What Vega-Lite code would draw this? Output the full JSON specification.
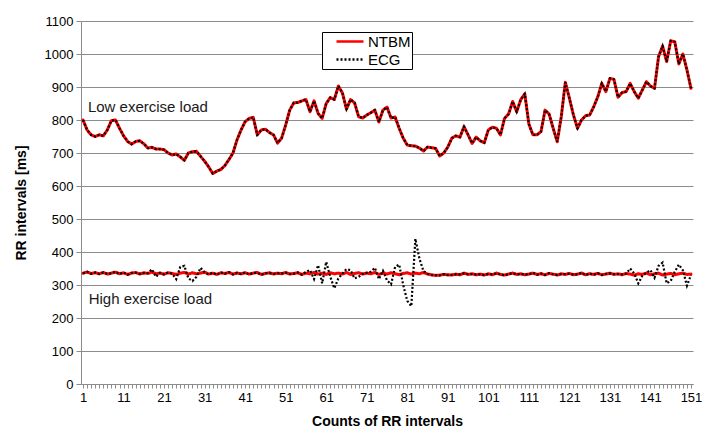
{
"$schema": "https://vega.github.io/schema/vega-lite/v6.json",
"width": 612, "height": 363,
"autosize": {"type": "none"},
"padding": {"left": 81, "top": 21, "right": 10, "bottom": 47},
"background": "white",
"config": {"view": {"stroke": null}, "font": "Liberation Sans"},
"data": {"values": [
{"i":1,"load":"low","NTBM":800,"ECG":800},{"i":2,"load":"low","NTBM":770,"ECG":770},{"i":3,"load":"low","NTBM":755,"ECG":755},{"i":4,"load":"low","NTBM":750,"ECG":750},{"i":5,"load":"low","NTBM":755,"ECG":755},{"i":6,"load":"low","NTBM":752,"ECG":752},{"i":7,"load":"low","NTBM":770,"ECG":770},{"i":8,"load":"low","NTBM":798,"ECG":798},{"i":9,"load":"low","NTBM":800,"ECG":800},{"i":10,"load":"low","NTBM":775,"ECG":775},
{"i":11,"load":"low","NTBM":752,"ECG":752},{"i":12,"load":"low","NTBM":735,"ECG":735},{"i":13,"load":"low","NTBM":727,"ECG":727},{"i":14,"load":"low","NTBM":735,"ECG":735},{"i":15,"load":"low","NTBM":737,"ECG":737},{"i":16,"load":"low","NTBM":728,"ECG":728},{"i":17,"load":"low","NTBM":715,"ECG":715},{"i":18,"load":"low","NTBM":717,"ECG":717},{"i":19,"load":"low","NTBM":712,"ECG":712},{"i":20,"load":"low","NTBM":712,"ECG":712},
{"i":21,"load":"low","NTBM":710,"ECG":710},{"i":22,"load":"low","NTBM":700,"ECG":700},{"i":23,"load":"low","NTBM":694,"ECG":694},{"i":24,"load":"low","NTBM":697,"ECG":697},{"i":25,"load":"low","NTBM":688,"ECG":688},{"i":26,"load":"low","NTBM":678,"ECG":678},{"i":27,"load":"low","NTBM":700,"ECG":700},{"i":28,"load":"low","NTBM":704,"ECG":704},{"i":29,"load":"low","NTBM":705,"ECG":705},{"i":30,"load":"low","NTBM":690,"ECG":690},
{"i":31,"load":"low","NTBM":675,"ECG":675},{"i":32,"load":"low","NTBM":658,"ECG":658},{"i":33,"load":"low","NTBM":638,"ECG":638},{"i":34,"load":"low","NTBM":645,"ECG":645},{"i":35,"load":"low","NTBM":650,"ECG":650},{"i":36,"load":"low","NTBM":662,"ECG":662},{"i":37,"load":"low","NTBM":680,"ECG":680},{"i":38,"load":"low","NTBM":700,"ECG":700},{"i":39,"load":"low","NTBM":740,"ECG":740},{"i":40,"load":"low","NTBM":770,"ECG":770},
{"i":41,"load":"low","NTBM":795,"ECG":795},{"i":42,"load":"low","NTBM":805,"ECG":805},{"i":43,"load":"low","NTBM":808,"ECG":808},{"i":44,"load":"low","NTBM":755,"ECG":755},{"i":45,"load":"low","NTBM":770,"ECG":770},{"i":46,"load":"low","NTBM":772,"ECG":772},{"i":47,"load":"low","NTBM":762,"ECG":762},{"i":48,"load":"low","NTBM":755,"ECG":755},{"i":49,"load":"low","NTBM":730,"ECG":730},{"i":50,"load":"low","NTBM":745,"ECG":745},
{"i":51,"load":"low","NTBM":785,"ECG":785},{"i":52,"load":"low","NTBM":830,"ECG":830},{"i":53,"load":"low","NTBM":852,"ECG":852},{"i":54,"load":"low","NTBM":853,"ECG":853},{"i":55,"load":"low","NTBM":858,"ECG":858},{"i":56,"load":"low","NTBM":862,"ECG":862},{"i":57,"load":"low","NTBM":825,"ECG":825},{"i":58,"load":"low","NTBM":858,"ECG":858},{"i":59,"load":"low","NTBM":820,"ECG":820},{"i":60,"load":"low","NTBM":805,"ECG":805},
{"i":61,"load":"low","NTBM":850,"ECG":850},{"i":62,"load":"low","NTBM":868,"ECG":868},{"i":63,"load":"low","NTBM":862,"ECG":862},{"i":64,"load":"low","NTBM":903,"ECG":903},{"i":65,"load":"low","NTBM":882,"ECG":882},{"i":66,"load":"low","NTBM":833,"ECG":833},{"i":67,"load":"low","NTBM":862,"ECG":862},{"i":68,"load":"low","NTBM":852,"ECG":852},{"i":69,"load":"low","NTBM":810,"ECG":810},{"i":70,"load":"low","NTBM":806,"ECG":806},
{"i":71,"load":"low","NTBM":815,"ECG":815},{"i":72,"load":"low","NTBM":822,"ECG":822},{"i":73,"load":"low","NTBM":830,"ECG":830},{"i":74,"load":"low","NTBM":794,"ECG":794},{"i":75,"load":"low","NTBM":830,"ECG":830},{"i":76,"load":"low","NTBM":839,"ECG":839},{"i":77,"load":"low","NTBM":806,"ECG":806},{"i":78,"load":"low","NTBM":809,"ECG":809},{"i":79,"load":"low","NTBM":775,"ECG":775},{"i":80,"load":"low","NTBM":745,"ECG":745},
{"i":81,"load":"low","NTBM":724,"ECG":724},{"i":82,"load":"low","NTBM":722,"ECG":722},{"i":83,"load":"low","NTBM":721,"ECG":721},{"i":84,"load":"low","NTBM":715,"ECG":715},{"i":85,"load":"low","NTBM":706,"ECG":706},{"i":86,"load":"low","NTBM":718,"ECG":718},{"i":87,"load":"low","NTBM":716,"ECG":716},{"i":88,"load":"low","NTBM":714,"ECG":714},{"i":89,"load":"low","NTBM":691,"ECG":691},{"i":90,"load":"low","NTBM":700,"ECG":700},
{"i":91,"load":"low","NTBM":718,"ECG":718},{"i":92,"load":"low","NTBM":745,"ECG":745},{"i":93,"load":"low","NTBM":752,"ECG":752},{"i":94,"load":"low","NTBM":748,"ECG":748},{"i":95,"load":"low","NTBM":780,"ECG":780},{"i":96,"load":"low","NTBM":755,"ECG":755},{"i":97,"load":"low","NTBM":729,"ECG":729},{"i":98,"load":"low","NTBM":748,"ECG":748},{"i":99,"load":"low","NTBM":737,"ECG":737},{"i":100,"load":"low","NTBM":731,"ECG":731},
{"i":101,"load":"low","NTBM":770,"ECG":770},{"i":102,"load":"low","NTBM":778,"ECG":778},{"i":103,"load":"low","NTBM":775,"ECG":775},{"i":104,"load":"low","NTBM":755,"ECG":755},{"i":105,"load":"low","NTBM":805,"ECG":805},{"i":106,"load":"low","NTBM":818,"ECG":818},{"i":107,"load":"low","NTBM":856,"ECG":856},{"i":108,"load":"low","NTBM":825,"ECG":825},{"i":109,"load":"low","NTBM":862,"ECG":862},{"i":110,"load":"low","NTBM":879,"ECG":879},
{"i":111,"load":"low","NTBM":788,"ECG":788},{"i":112,"load":"low","NTBM":755,"ECG":755},{"i":113,"load":"low","NTBM":755,"ECG":755},{"i":114,"load":"low","NTBM":765,"ECG":765},{"i":115,"load":"low","NTBM":830,"ECG":830},{"i":116,"load":"low","NTBM":818,"ECG":818},{"i":117,"load":"low","NTBM":775,"ECG":775},{"i":118,"load":"low","NTBM":734,"ECG":734},{"i":119,"load":"low","NTBM":810,"ECG":810},{"i":120,"load":"low","NTBM":914,"ECG":914},
{"i":121,"load":"low","NTBM":866,"ECG":866},{"i":122,"load":"low","NTBM":815,"ECG":815},{"i":123,"load":"low","NTBM":775,"ECG":775},{"i":124,"load":"low","NTBM":800,"ECG":800},{"i":125,"load":"low","NTBM":813,"ECG":813},{"i":126,"load":"low","NTBM":815,"ECG":815},{"i":127,"load":"low","NTBM":840,"ECG":840},{"i":128,"load":"low","NTBM":870,"ECG":870},{"i":129,"load":"low","NTBM":911,"ECG":911},{"i":130,"load":"low","NTBM":886,"ECG":886},
{"i":131,"load":"low","NTBM":926,"ECG":926},{"i":132,"load":"low","NTBM":923,"ECG":923},{"i":133,"load":"low","NTBM":869,"ECG":869},{"i":134,"load":"low","NTBM":883,"ECG":883},{"i":135,"load":"low","NTBM":886,"ECG":886},{"i":136,"load":"low","NTBM":911,"ECG":911},{"i":137,"load":"low","NTBM":886,"ECG":886},{"i":138,"load":"low","NTBM":866,"ECG":866},{"i":139,"load":"low","NTBM":891,"ECG":891},{"i":140,"load":"low","NTBM":916,"ECG":916},
{"i":141,"load":"low","NTBM":903,"ECG":903},{"i":142,"load":"low","NTBM":896,"ECG":896},{"i":143,"load":"low","NTBM":992,"ECG":992},{"i":144,"load":"low","NTBM":1024,"ECG":1024},{"i":145,"load":"low","NTBM":977,"ECG":977},{"i":146,"load":"low","NTBM":1040,"ECG":1040},{"i":147,"load":"low","NTBM":1037,"ECG":1037},{"i":148,"load":"low","NTBM":970,"ECG":970},{"i":149,"load":"low","NTBM":1000,"ECG":1000},{"i":150,"load":"low","NTBM":952,"ECG":952},
{"i":151,"load":"low","NTBM":896,"ECG":896},
{"i":1,"load":"high","NTBM":336,"ECG":335},{"i":2,"load":"high","NTBM":339,"ECG":340},{"i":3,"load":"high","NTBM":335,"ECG":334},{"i":4,"load":"high","NTBM":337,"ECG":338},{"i":5,"load":"high","NTBM":334,"ECG":333},{"i":6,"load":"high","NTBM":338,"ECG":338},{"i":7,"load":"high","NTBM":333,"ECG":334},{"i":8,"load":"high","NTBM":336,"ECG":335},{"i":9,"load":"high","NTBM":339,"ECG":340},{"i":10,"load":"high","NTBM":334,"ECG":333},
{"i":11,"load":"high","NTBM":337,"ECG":338},{"i":12,"load":"high","NTBM":332,"ECG":331},{"i":13,"load":"high","NTBM":336,"ECG":337},{"i":14,"load":"high","NTBM":338,"ECG":337},{"i":15,"load":"high","NTBM":333,"ECG":334},{"i":16,"load":"high","NTBM":337,"ECG":336},{"i":17,"load":"high","NTBM":335,"ECG":336},{"i":18,"load":"high","NTBM":339,"ECG":348},{"i":19,"load":"high","NTBM":334,"ECG":325},{"i":20,"load":"high","NTBM":336,"ECG":337},
{"i":21,"load":"high","NTBM":333,"ECG":332},{"i":22,"load":"high","NTBM":337,"ECG":338},{"i":23,"load":"high","NTBM":335,"ECG":334},{"i":24,"load":"high","NTBM":332,"ECG":318},{"i":25,"load":"high","NTBM":336,"ECG":355},{"i":26,"load":"high","NTBM":338,"ECG":358},{"i":27,"load":"high","NTBM":333,"ECG":320},{"i":28,"load":"high","NTBM":337,"ECG":312},{"i":29,"load":"high","NTBM":334,"ECG":325},{"i":30,"load":"high","NTBM":336,"ECG":352},
{"i":31,"load":"high","NTBM":339,"ECG":338},{"i":32,"load":"high","NTBM":333,"ECG":332},{"i":33,"load":"high","NTBM":336,"ECG":337},{"i":34,"load":"high","NTBM":332,"ECG":331},{"i":35,"load":"high","NTBM":337,"ECG":338},{"i":36,"load":"high","NTBM":335,"ECG":334},{"i":37,"load":"high","NTBM":338,"ECG":339},{"i":38,"load":"high","NTBM":333,"ECG":332},{"i":39,"load":"high","NTBM":336,"ECG":337},{"i":40,"load":"high","NTBM":334,"ECG":333},
{"i":41,"load":"high","NTBM":337,"ECG":338},{"i":42,"load":"high","NTBM":333,"ECG":332},{"i":43,"load":"high","NTBM":336,"ECG":337},{"i":44,"load":"high","NTBM":338,"ECG":337},{"i":45,"load":"high","NTBM":332,"ECG":331},{"i":46,"load":"high","NTBM":335,"ECG":336},{"i":47,"load":"high","NTBM":337,"ECG":336},{"i":48,"load":"high","NTBM":333,"ECG":334},{"i":49,"load":"high","NTBM":336,"ECG":335},{"i":50,"load":"high","NTBM":334,"ECG":335},
{"i":51,"load":"high","NTBM":338,"ECG":337},{"i":52,"load":"high","NTBM":333,"ECG":334},{"i":53,"load":"high","NTBM":335,"ECG":334},{"i":54,"load":"high","NTBM":337,"ECG":338},{"i":55,"load":"high","NTBM":332,"ECG":331},{"i":56,"load":"high","NTBM":336,"ECG":340},{"i":57,"load":"high","NTBM":334,"ECG":345},{"i":58,"load":"high","NTBM":338,"ECG":318},{"i":59,"load":"high","NTBM":333,"ECG":360},{"i":60,"load":"high","NTBM":336,"ECG":305},
{"i":61,"load":"high","NTBM":332,"ECG":370},{"i":62,"load":"high","NTBM":337,"ECG":325},{"i":63,"load":"high","NTBM":334,"ECG":290},{"i":64,"load":"high","NTBM":336,"ECG":320},{"i":65,"load":"high","NTBM":333,"ECG":335},{"i":66,"load":"high","NTBM":338,"ECG":348},{"i":67,"load":"high","NTBM":332,"ECG":345},{"i":68,"load":"high","NTBM":335,"ECG":320},{"i":69,"load":"high","NTBM":337,"ECG":325},{"i":70,"load":"high","NTBM":333,"ECG":334},
{"i":71,"load":"high","NTBM":336,"ECG":337},{"i":72,"load":"high","NTBM":334,"ECG":340},{"i":73,"load":"high","NTBM":338,"ECG":352},{"i":74,"load":"high","NTBM":332,"ECG":318},{"i":75,"load":"high","NTBM":336,"ECG":343},{"i":76,"load":"high","NTBM":333,"ECG":314},{"i":77,"load":"high","NTBM":337,"ECG":302},{"i":78,"load":"high","NTBM":334,"ECG":355},{"i":79,"load":"high","NTBM":331,"ECG":362},{"i":80,"load":"high","NTBM":335,"ECG":300},
{"i":81,"load":"high","NTBM":337,"ECG":252},{"i":82,"load":"high","NTBM":333,"ECG":236},{"i":83,"load":"high","NTBM":336,"ECG":440},{"i":84,"load":"high","NTBM":334,"ECG":380},{"i":85,"load":"high","NTBM":338,"ECG":342},{"i":86,"load":"high","NTBM":333,"ECG":334},{"i":87,"load":"high","NTBM":331,"ECG":330},{"i":88,"load":"high","NTBM":329,"ECG":330},{"i":89,"load":"high","NTBM":330,"ECG":329},{"i":90,"load":"high","NTBM":332,"ECG":333},
{"i":91,"load":"high","NTBM":331,"ECG":330},{"i":92,"load":"high","NTBM":330,"ECG":331},{"i":93,"load":"high","NTBM":333,"ECG":332},{"i":94,"load":"high","NTBM":331,"ECG":332},{"i":95,"load":"high","NTBM":336,"ECG":335},{"i":96,"load":"high","NTBM":332,"ECG":333},{"i":97,"load":"high","NTBM":334,"ECG":333},{"i":98,"load":"high","NTBM":331,"ECG":332},{"i":99,"load":"high","NTBM":333,"ECG":332},{"i":100,"load":"high","NTBM":330,"ECG":331},
{"i":101,"load":"high","NTBM":334,"ECG":333},{"i":102,"load":"high","NTBM":331,"ECG":332},{"i":103,"load":"high","NTBM":336,"ECG":335},{"i":104,"load":"high","NTBM":332,"ECG":333},{"i":105,"load":"high","NTBM":330,"ECG":329},{"i":106,"load":"high","NTBM":333,"ECG":334},{"i":107,"load":"high","NTBM":336,"ECG":335},{"i":108,"load":"high","NTBM":332,"ECG":333},{"i":109,"load":"high","NTBM":334,"ECG":333},{"i":110,"load":"high","NTBM":331,"ECG":332},
{"i":111,"load":"high","NTBM":333,"ECG":332},{"i":112,"load":"high","NTBM":336,"ECG":337},{"i":113,"load":"high","NTBM":332,"ECG":331},{"i":114,"load":"high","NTBM":334,"ECG":335},{"i":115,"load":"high","NTBM":331,"ECG":330},{"i":116,"load":"high","NTBM":335,"ECG":336},{"i":117,"load":"high","NTBM":333,"ECG":332},{"i":118,"load":"high","NTBM":330,"ECG":331},{"i":119,"load":"high","NTBM":334,"ECG":333},{"i":120,"load":"high","NTBM":332,"ECG":333},
{"i":121,"load":"high","NTBM":335,"ECG":334},{"i":122,"load":"high","NTBM":331,"ECG":332},{"i":123,"load":"high","NTBM":333,"ECG":332},{"i":124,"load":"high","NTBM":336,"ECG":337},{"i":125,"load":"high","NTBM":331,"ECG":330},{"i":126,"load":"high","NTBM":334,"ECG":335},{"i":127,"load":"high","NTBM":332,"ECG":331},{"i":128,"load":"high","NTBM":335,"ECG":336},{"i":129,"load":"high","NTBM":331,"ECG":330},{"i":130,"load":"high","NTBM":333,"ECG":334},
{"i":131,"load":"high","NTBM":336,"ECG":335},{"i":132,"load":"high","NTBM":332,"ECG":333},{"i":133,"load":"high","NTBM":334,"ECG":333},{"i":134,"load":"high","NTBM":331,"ECG":332},{"i":135,"load":"high","NTBM":335,"ECG":334},{"i":136,"load":"high","NTBM":333,"ECG":350},{"i":137,"load":"high","NTBM":330,"ECG":335},{"i":138,"load":"high","NTBM":334,"ECG":305},{"i":139,"load":"high","NTBM":332,"ECG":328},{"i":140,"load":"high","NTBM":336,"ECG":337},
{"i":141,"load":"high","NTBM":331,"ECG":345},{"i":142,"load":"high","NTBM":334,"ECG":322},{"i":143,"load":"high","NTBM":336,"ECG":358},{"i":144,"load":"high","NTBM":330,"ECG":368},{"i":145,"load":"high","NTBM":333,"ECG":305},{"i":146,"load":"high","NTBM":335,"ECG":312},{"i":147,"load":"high","NTBM":331,"ECG":340},{"i":148,"load":"high","NTBM":334,"ECG":362},{"i":149,"load":"high","NTBM":336,"ECG":345},{"i":150,"load":"high","NTBM":332,"ECG":298},
{"i":151,"load":"high","NTBM":333,"ECG":330}
]},
"layer": [
{
"transform": [{"fold": ["NTBM", "ECG"], "as": ["series", "v"]}],
"encoding": {
"x": {"field": "i", "type": "quantitative", "scale": {"domain": [0.5, 151.5], "nice": false, "zero": false},
"axis": {"title": "Counts of RR intervals", "titleFont": "Liberation Sans", "titleFontSize": 14, "titleFontWeight": "bold", "titleColor": "#000", "titlePadding": 10,
"tickCount": 151, "labelExpr": "datum.value % 10 === 1 ? datum.label : ''", "labelOverlap": false, "labelFlush": false, "labelFontSize": 13, "labelColor": "#000", "labelPadding": 3, "labelFont": "Liberation Sans",
"tickSize": 4, "tickColor": "#8c8c8c", "domainColor": "#8c8c8c", "grid": false}},
"y": {"field": "v", "type": "quantitative", "scale": {"domain": [0, 1100], "nice": false},
"axis": {"title": "RR intervals [ms]", "titleFont": "Liberation Sans", "titleFontSize": 14, "titleFontWeight": "bold", "titleColor": "#000", "titlePadding": 16,
"tickCount": 12, "format": "d", "labelOverlap": false, "labelFontSize": 13, "labelColor": "#000", "labelPadding": 3, "labelFont": "Liberation Sans",
"tickSize": 5, "tickColor": "#8c8c8c", "domainColor": "#8c8c8c", "grid": true, "gridColor": "#8c8c8c", "gridWidth": 1}},
"color": {"field": "series", "type": "nominal", "scale": {"domain": ["NTBM", "ECG"], "range": ["#ff0000", "#000000"]},
"legend": {"title": null, "orient": "none", "legendX": 241, "legendY": 11, "symbolType": "stroke", "symbolSize": 729, "clipHeight": 17, "symbolStrokeWidth": 2.5, "symbolOffset": 12, "labelFontSize": 15, "labelFont": "Liberation Sans", "labelColor": "#000", "labelOffset": 3, "strokeColor": "#000", "fillColor": "#fff", "padding": 1, "rowPadding": 1}},
"strokeDash": {"field": "series", "type": "nominal", "scale": {"domain": ["NTBM", "ECG"], "range": [[1, 0], [2, 2]]},
"legend": {"title": null, "orient": "none", "legendX": 241, "legendY": 11, "symbolType": "stroke", "symbolSize": 729, "clipHeight": 17, "symbolStrokeWidth": 2.5, "symbolOffset": 12, "labelFontSize": 15, "labelFont": "Liberation Sans", "labelColor": "#000", "labelOffset": 3, "strokeColor": "#000", "fillColor": "#fff", "padding": 1, "rowPadding": 1}},
"detail": {"field": "load", "type": "nominal"}
},
"layer": [
{"transform": [{"filter": "datum.series === 'NTBM'"}], "mark": {"type": "line", "strokeWidth": 3, "strokeJoin": "round", "strokeCap": "round"}},
{"transform": [{"filter": "datum.series === 'ECG'"}], "mark": {"type": "line", "strokeWidth": 2.2}}
]
},
{
"data": {"values": [{"label": "Low exercise load"}]},
"mark": {"type": "text", "align": "left", "baseline": "middle", "fontSize": 15, "font": "Liberation Sans", "color": "#1a1a1a"},
"encoding": {"x": {"datum": 2.2}, "y": {"datum": 839}, "text": {"field": "label"}}
},
{
"data": {"values": [{"label": "High exercise load"}]},
"mark": {"type": "text", "align": "left", "baseline": "middle", "fontSize": 15, "font": "Liberation Sans", "color": "#1a1a1a"},
"encoding": {"x": {"datum": 2.4}, "y": {"datum": 258}, "text": {"field": "label"}}
}
]
}
